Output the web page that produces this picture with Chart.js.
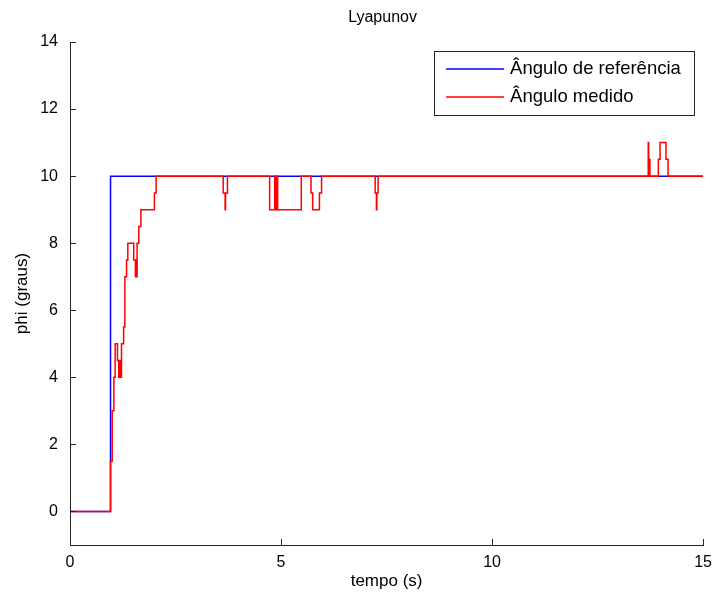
<!DOCTYPE html>
<html>
<head>
<meta charset="utf-8">
<script src="https://cdn.jsdelivr.net/npm/chart.js@4.4.1/dist/chart.umd.min.js"></script>
<style>
  body { margin: 0; background: #fff; }
  #wrap { width: 720px; height: 597px; }
</style>
</head>
<body>
<div id="wrap"><canvas id="chart" width="720" height="597"></canvas></div>
<script>
// Reference angle: step from 0 to 10 graus
const refTime = [0, 0.96, 15];
const refAngle = [0, 10, 10];

// Measured angle: instant (s) of each change and the new value (graus)
const measTime = [
    0, 0.96, 1.00, 1.04, 1.07, 1.125, 1.155, 1.17, 1.18, 1.19,
    1.20, 1.22, 1.27, 1.30, 1.34, 1.37, 1.51, 1.55, 1.56, 1.565,
    1.575, 1.58, 1.59, 1.63, 1.68, 2.00, 2.04, 3.63, 3.675, 3.685,
    3.73, 4.73, 4.85, 4.86, 4.87, 4.88, 4.89, 4.90, 4.91, 4.92,
    5.48, 5.71, 5.75, 5.91, 5.96, 7.23, 7.26, 7.27, 7.30, 13.70,
    13.71, 13.72, 13.725, 13.73, 13.735, 13.74, 13.94, 13.98, 14.12, 14.17,
    15
];
const measAngle = [
    0, 1.5, 3, 4, 5, 4.5, 4, 4.5, 4, 4.5,
    4, 5, 5.5, 7, 7.5, 8, 7.5, 7, 7.5, 7,
    7.5, 7, 8, 8.5, 9, 9.5, 10, 9.5, 9, 9.5,
    10, 9, 10, 9, 10, 9, 10, 9, 10, 9,
    10, 9.5, 9, 9.5, 10, 9.5, 9, 9.5, 10, 11,
    10.5, 10, 10.5, 10, 10.5, 10, 10.5, 11, 10.5, 10,
    10
];

const xTicks = [0, 5, 10, 15];
const yTicks = [0, 2, 4, 6, 8, 10, 12, 14];

const FONT = "'Liberation Sans', Arial, sans-serif";
const AXIS_COLOR = '#262626';

const toPoints = (xs, ys) => xs.map((x, i) => ({ x: x, y: ys[i] }));

// Inward tick marks on the left and bottom axes
const tickMarks = {
    id: 'tickMarks',
    afterDatasetsDraw(chart) {
        const { ctx, chartArea: a, scales: { x, y } } = chart;
        ctx.save();
        ctx.strokeStyle = AXIS_COLOR;
        ctx.lineWidth = 1;
        ctx.beginPath();
        xTicks.forEach(v => {
            const px = Math.round(x.getPixelForValue(v)) + 0.5;
            ctx.moveTo(px, a.bottom);
            ctx.lineTo(px, a.bottom - 6);
        });
        yTicks.forEach(v => {
            const py = Math.round(y.getPixelForValue(v)) + 0.5;
            ctx.moveTo(a.left, py);
            ctx.lineTo(a.left + 6, py);
        });
        ctx.stroke();
        ctx.restore();
    }
};

// Title centred over the plot area
const plotTitle = {
    id: 'plotTitle',
    afterDraw(chart) {
        const { ctx, chartArea: a } = chart;
        ctx.save();
        ctx.font = '16px ' + FONT;
        ctx.fillStyle = '#000';
        ctx.textAlign = 'center';
        ctx.textBaseline = 'middle';
        ctx.fillText('Lyapunov', (a.left + a.right) / 2 - 4, 18);
        ctx.restore();
    }
};

// Boxed legend in the upper right corner of the plot
const legendBox = {
    id: 'legendBox',
    afterDraw(chart) {
        const { ctx, chartArea: a } = chart;
        const w = 260, h = 64;
        const bx = a.right - 9 - w, by = a.top + 9;
        ctx.save();
        ctx.fillStyle = '#fff';
        ctx.fillRect(bx, by, w, h);
        ctx.strokeStyle = '#262626';
        ctx.lineWidth = 1;
        ctx.strokeRect(Math.round(bx) + 0.5, Math.round(by) + 0.5, w, h);
        ctx.font = '18.5px ' + FONT;
        ctx.textBaseline = 'middle';
        ctx.textAlign = 'left';
        chart.data.datasets.forEach((ds, i) => {
            const ly = by + 18 + i * 28;
            ctx.strokeStyle = ds.borderColor;
            ctx.lineWidth = 1.5;
            ctx.beginPath();
            ctx.moveTo(bx + 12, ly);
            ctx.lineTo(bx + 70, ly);
            ctx.stroke();
            ctx.fillStyle = '#000';
            ctx.fillText(ds.label, bx + 76, ly);
        });
        ctx.restore();
    }
};

new Chart(document.getElementById('chart'), {
    type: 'line',
    data: {
        datasets: [{
            label: 'Ângulo de referência',
            data: toPoints(refTime, refAngle),
            borderColor: '#0000ff',
            borderWidth: 1.5,
            stepped: true,
            pointRadius: 0,
            order: 1
        }, {
            label: 'Ângulo medido',
            data: toPoints(measTime, measAngle),
            borderColor: '#ff0000',
            borderWidth: 1.5,
            stepped: true,
            pointRadius: 0,
            order: 0
        }]
    },
    options: {
        responsive: false,
        animation: false,
        layout: { padding: { top: 42, right: 13, bottom: 0, left: 0 } },
        plugins: {
            legend: { display: false },
            tooltip: { enabled: false }
        },
        scales: {
            x: {
                type: 'linear',
                min: 0,
                max: 15,
                afterBuildTicks: s => { s.ticks = xTicks.map(v => ({ value: v })); },
                afterFit: s => { s.height = 52; },
                grid: { display: false, drawTicks: false },
                border: { display: true, color: AXIS_COLOR, width: 1 },
                ticks: { padding: 8, color: '#000', maxRotation: 0, autoSkip: false, font: { family: FONT, size: 16 } },
                title: { display: true, text: 'tempo (s)', color: '#000', font: { family: FONT, size: 17 }, padding: { top: 0, bottom: 5 } }
            },
            y: {
                type: 'linear',
                min: -1,
                max: 14,
                afterBuildTicks: s => { s.ticks = yTicks.map(v => ({ value: v })); },
                afterFit: s => { s.width = 70; },
                grid: { display: false, drawTicks: false },
                border: { display: true, color: AXIS_COLOR, width: 1 },
                ticks: { padding: 12, color: '#000', autoSkip: false, font: { family: FONT, size: 16 } },
                title: { display: true, text: 'phi (graus)', color: '#000', font: { family: FONT, size: 17 }, padding: { top: 12, bottom: 0 } }
            }
        }
    },
    plugins: [tickMarks, plotTitle, legendBox]
});
</script>
</body>
</html>
